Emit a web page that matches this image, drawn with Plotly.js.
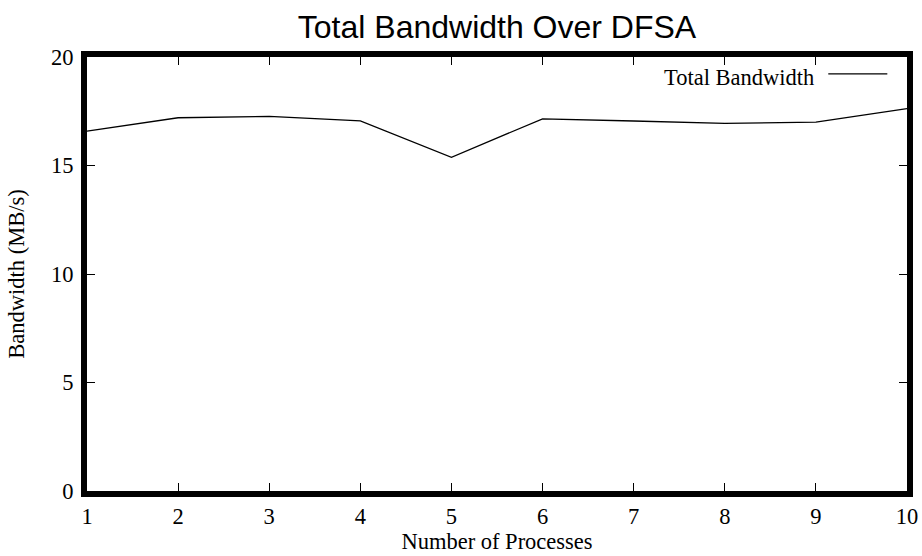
<!DOCTYPE html>
<html>
<head>
<meta charset="utf-8">
<script src="https://cdn.plot.ly/plotly-3.0.1.min.js"></script>
<style>html,body{margin:0;padding:0;background:#fff;}#chart{width:922px;height:556px;}</style>
</head>
<body>
<div id="chart"></div>
<script>
const processes = [1, 2, 3, 4, 5, 6, 7, 8, 9, 10];
const totalBandwidth = [16.58, 17.2, 17.26, 17.06, 15.38, 17.15, 17.05, 16.94, 17.0, 17.62];
const xTicks = [1, 2, 3, 4, 5, 6, 7, 8, 9, 10];
const yTicks = [0, 5, 10, 15, 20];
const seriesName = 'Total Bandwidth';

const serif = 'Liberation Serif, Times New Roman, serif';
const fs = 22.5;
const trace = {
  x: processes, y: totalBandwidth, type: 'scatter', mode: 'lines',
  name: seriesName, line: {color: '#000', width: 1.3}, showlegend: false
};
const axisCommon = {
  showline: true, linewidth: 6, linecolor: '#000', mirror: 'ticks',
  ticks: 'inside', ticklen: 8, tickwidth: 1, tickcolor: '#000',
  showgrid: false, zeroline: false,
  tickfont: {family: serif, size: fs, color: '#000'}
};
const layout = {
  width: 922, height: 556,
  margin: {l: 87, r: 15, t: 57, b: 65},
  paper_bgcolor: '#fff', plot_bgcolor: '#fff',
  title: {text: 'Total Bandwidth Over DFSA', font: {family: 'Liberation Sans, Arial, sans-serif', size: 32, color: '#000'},
    xref: 'paper', x: 0.5, xanchor: 'center', y: 0.951, yanchor: 'middle'},
  xaxis: Object.assign({}, axisCommon, {range: [1, 10], tickvals: xTicks, ticktext: xTicks.map(String),
    title: {text: 'Number of Processes', font: {family: serif, size: fs, color: '#000'}, standoff: 0}}),
  yaxis: Object.assign({}, axisCommon, {range: [0, 20], tickvals: yTicks, ticktext: yTicks.map(String),
    ticklabelstandoff: 3,
    title: {text: 'Bandwidth (MB/s)', font: {family: serif, size: fs, color: '#000'}, standoff: 22}}),
  annotations: [{xref: 'paper', yref: 'paper', x: 0.889, y: 0.952, xanchor: 'right', yanchor: 'middle',
    text: seriesName, showarrow: false, font: {family: serif, size: fs, color: '#000'}}],
  shapes: [{type: 'line', xref: 'paper', yref: 'paper', x0: 0.904, x1: 0.976, y0: 0.961, y1: 0.961,
    line: {color: '#000', width: 1.3}}]
};
Plotly.newPlot('chart', [trace], layout, {displayModeBar: false, staticPlot: true});
</script>
</body>
</html>
